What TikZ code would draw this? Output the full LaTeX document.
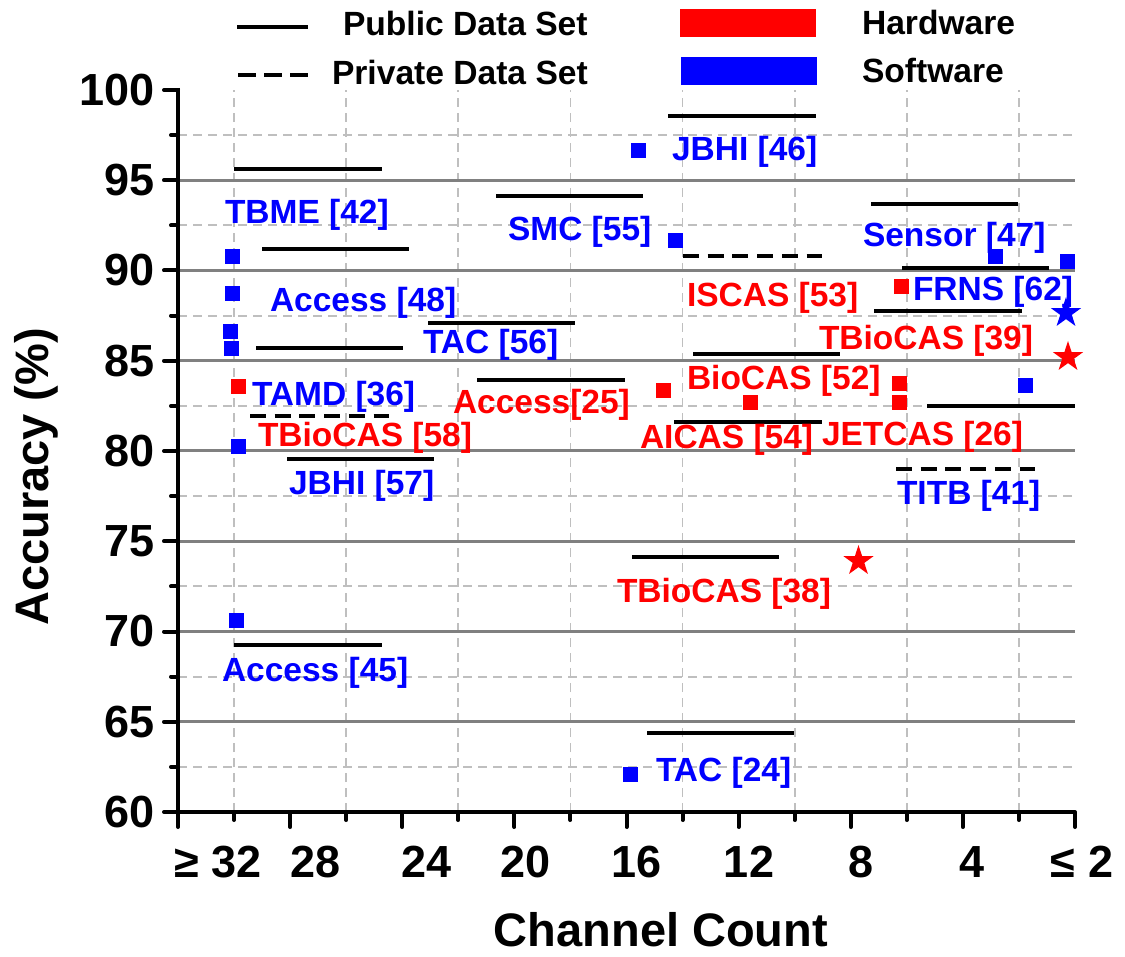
\documentclass[tikz,border=0pt]{standalone}
\usepackage{fontspec}
\setmainfont{Liberation Sans}
\usetikzlibrary{shapes.geometric}
\begin{document}
\begin{tikzpicture}[x=1pt,y=-1pt,
  every node/.style={inner sep=0pt, outer sep=0pt},
  lbl/.style={font=\fontsize{33.5}{36}\selectfont\bfseries, anchor=base west},
  hw/.style={lbl, text=red},
  sw/.style={lbl, text=blue},
  leg/.style={font=\fontsize{33.6}{36}\selectfont\bfseries, anchor=base west},
  pub/.style={line width=3.8pt},
  priv/.style={line width=3.8pt, dash pattern=on 16pt off 8.7pt},
  sqr/.style={rectangle, minimum size=15pt, fill=red},
  sqb/.style={rectangle, minimum size=15pt, fill=blue},
  strr/.style={star, star points=5, star point ratio=2.618, minimum size=32pt, fill=red},
  strb/.style={star, star points=5, star point ratio=2.618, minimum size=32pt, fill=blue},
  majgrid/.style={line width=3pt, color=black!50},
  mingrid/.style={line width=1.8pt, color=black!25, dash pattern=on 9pt off 6pt},
  tickl/.style={font=\fontsize{45}{50}\selectfont\bfseries},
  axtitle/.style={font=\fontsize{47}{52}\selectfont\bfseries},
  axline/.style={line width=4.5pt},
  tk/.style={line width=4pt, line cap=round},
  ]
\useasboundingbox (0,0) rectangle (1125,957);

% minor (dashed) grid
\foreach \y in {766.88,676.63,586.38,496.13,405.88,315.63,225.38,135.13}
  \draw[mingrid] (178,\y) -- (1075,\y);
\foreach \x in {234.06,346.19,458.31,570.44,682.56,794.69,906.81,1018.94}
  \draw[mingrid] (\x,812) -- (\x,90);
% major grid
\foreach \y in {721.75,631.5,541.25,451,360.75,270.5,180.25}
  \draw[majgrid] (178,\y) -- (1075,\y);

% legend
\draw[pub] (237,26.7) -- (308,26.7);
\node[leg] (lpub) at (343,36) {Public Data Set};
\draw[line width=3.8pt, dash pattern=on 18pt off 8pt] (238,75) -- (308,75);
\node[leg] (lpriv) at (332,85) {Private Data Set};
\fill[red] (680,9) rectangle (816,37);
\node[leg] (lhw) at (862,35) {Hardware};
\fill[blue] (681,57) rectangle (817,85);
\node[leg] (lsw) at (862,83) {Software};

% data set lines
\draw[pub] (234,168.7) -- (382,168.7);
\draw[pub] (262,248.7) -- (409,248.7);
\draw[pub] (496,196) -- (643,196);
\draw[pub] (428,323) -- (575,323);
\draw[pub] (256,347.7) -- (403,347.7);
\draw[pub] (477,380) -- (625,380);
\draw[pub] (287,458.7) -- (434,458.7);
\draw[pub] (234,645) -- (382,645);
\draw[pub] (668,115.7) -- (816,115.7);
\draw[pub] (871,204) -- (1018,204);
\draw[pub] (902,267.7) -- (1049,267.7);
\draw[pub] (874,310.7) -- (1022,310.7);
\draw[pub] (693,354.3) -- (840,354.3);
\draw[pub] (927,406) -- (1075,406);
\draw[pub] (674,421.7) -- (822,421.7);
\draw[pub] (632,557) -- (779,557);
\draw[pub] (647,733.3) -- (794,733.3);
\draw[priv] (683,256.3) -- (822,256.3);
\draw[priv] (250,415.7) -- (389,415.7);
\draw[priv] (896,469) -- (1035,469);

% software points
\node[sqb] (b1) at (638.5,150.5) {};
\node[sqb] (b2) at (232.5,256.5) {};
\node[sqb] (b3) at (232.5,293.5) {};
\node[sqb] (b4) at (230.5,331.5) {};
\node[sqb] (b5) at (231,349) {};
\node[sqb] (b6) at (238.5,446.5) {};
\node[sqb] (b7) at (236.5,620.5) {};
\node[sqb] (b8) at (630,774.5) {};
\node[sqb] (b9) at (675.5,240.5) {};
\node[sqb] (b10) at (995.5,256.5) {};
\node[sqb] (b11) at (1067,262) {};
\node[sqb] (b12) at (1025.5,385.5) {};
% hardware points
\node[sqr] (r1) at (238.5,386.5) {};
\node[sqr] (r2) at (901,286.5) {};
\node[sqr] (r3) at (663,390.5) {};
\node[sqr] (r4) at (750,402.5) {};
\node[sqr] (r5) at (899.5,384) {};
\node[sqr] (r6) at (899.5,403) {};
% stars
\node[strb] (sb) at (1066,313) {};
\node[strr] (sr1) at (1068,357) {};
\node[strr] (sr2) at (858.5,561) {};

% labels
\node[sw] (tbme42) at (225,224) {TBME [42]};
\node[sw] (smc55) at (508,241) {SMC [55]};
\node[sw] (acc48) at (270,312) {Access [48]};
\node[sw] (tac56) at (423,354) {TAC [56]};
\node[sw] (tamd36) at (252,406) {TAMD [36]};
\node[hw] (acc25) at (453,414) {Access[25]};
\node[hw] (tbc58) at (258,447) {TBioCAS [58]};
\node[sw] (jbhi57) at (289,494) {JBHI [57]};
\node[sw] (acc45) at (222,681) {Access [45]};
\node[sw] (jbhi46) at (672,161) {JBHI [46]};
\node[sw] (sen47) at (863,247) {Sensor [47]};
\node[sw] (frns62) at (913,301) {FRNS [62]};
\node[hw] (iscas53) at (687,307) {ISCAS [53]};
\node[hw] (tbc39) at (819,350) {TBioCAS [39]};
\node[hw] (biocas52) at (687,390) {BioCAS [52]};
\node[hw] (aicas54) at (640,449) {AICAS [54]};
\node[hw] (jetcas26) at (822,446) {JETCAS [26]};
\node[sw] (titb41) at (897,504) {TITB [41]};
\node[hw] (tbc38) at (617,602) {TBioCAS [38]};
\node[sw] (tac24) at (656,781) {TAC [24]};

% axes
\draw[axline] (178,88) -- (178,812) -- (1075,812);
\foreach \y in {812,721.75,631.5,541.25,451,360.75,270.5,180.25,90}
  \draw[tk] (178,\y) -- (164,\y);
\foreach \y in {766.88,676.63,586.38,496.13,405.88,315.63,225.38,135.13}
  \draw[tk] (178,\y) -- (171,\y);
\foreach \x in {178,290.13,402.25,514.38,626.5,738.63,850.75,962.88,1075}
  \draw[tk] (\x,812) -- (\x,827);
\foreach \x in {234.06,346.19,458.31,570.44,682.56,794.69,906.81,1018.94}
  \draw[tk] (\x,812) -- (\x,820);

% tick labels
\foreach \y/\t [count=\i] in {812/60,721.75/65,631.5/70,541.25/75,451/80,360.75/85,270.5/90,180.25/95,90/100}
  \node[tickl, anchor=east] (yl\i) at (155,\y) {\t};
\foreach \x/\t [count=\i] in {218/{≥ 32},316/28,427/24,526/20,637/16,749/12,861/8,972/4,1082/{≤ 2}}
  \node[tickl, anchor=base] (xl\i) at (\x,877) {\t};

\node[axtitle, anchor=base] (xtitle) at (661,946) {Channel Count};
\node[axtitle, anchor=base, rotate=90] (ytitle) at (48,477) {Accuracy (\%)};
\end{tikzpicture}
\end{document}
